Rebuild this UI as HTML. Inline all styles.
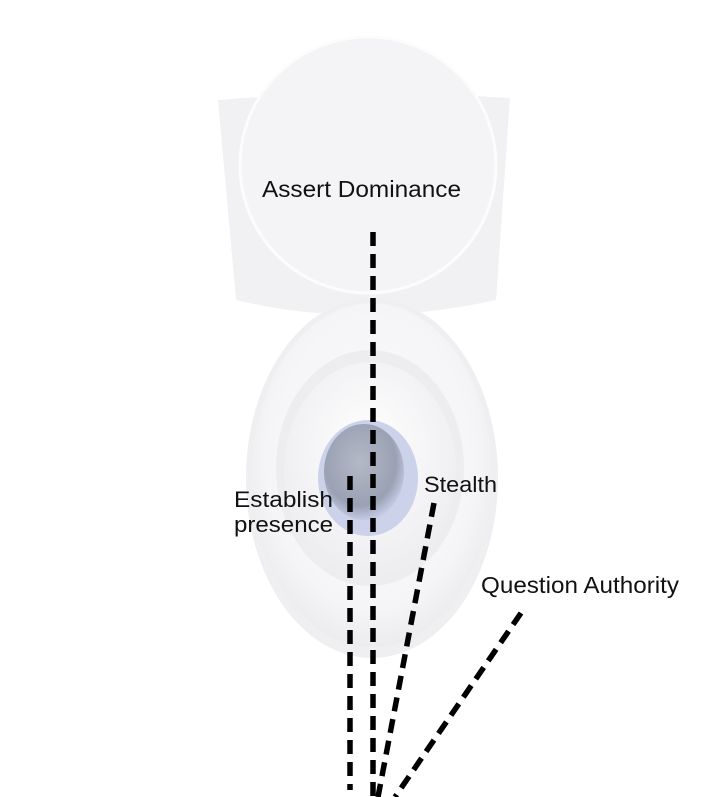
<!DOCTYPE html>
<html><head><style>
html,body{margin:0;padding:0;background:#fff;}
svg{display:block;}
text{font-family:"Liberation Sans",sans-serif;fill:#111;}
</style></head><body>
<svg width="720" height="797" viewBox="0 0 720 797" xmlns="http://www.w3.org/2000/svg">
<defs>
<radialGradient id="bowl" cx="50%" cy="45%" r="55%">
<stop offset="0" stop-color="#fbfbfc"/><stop offset="0.8" stop-color="#f5f5f7"/><stop offset="1" stop-color="#ececef"/>
</radialGradient>
<radialGradient id="inner" cx="50%" cy="40%" r="60%">
<stop offset="0" stop-color="#ffffff"/><stop offset="1" stop-color="#ededf0"/>
</radialGradient>
<radialGradient id="water" cx="45%" cy="40%" r="60%">
<stop offset="0" stop-color="#b4b9c6"/><stop offset="0.75" stop-color="#9aa1b3"/><stop offset="1" stop-color="#c3c9e3"/>
</radialGradient>
</defs>
<rect width="720" height="797" fill="#fff"/>
<path d="M218 100 Q360 88 510 98 L496 300 Q360 330 236 300 Z" fill="#f1f1f3"/>
<ellipse cx="372" cy="478" rx="126" ry="180" fill="#efeff1"/>
<ellipse cx="372" cy="475" rx="120" ry="172" fill="url(#bowl)"/>
<ellipse cx="370" cy="468" rx="94" ry="118" fill="#ededf0"/>
<ellipse cx="370" cy="470" rx="86" ry="108" fill="url(#inner)"/>
<ellipse cx="368" cy="478" rx="50" ry="58" fill="#ccd2ea"/>
<ellipse cx="364" cy="472" rx="40" ry="48" fill="url(#water)"/>
<circle cx="368" cy="165" r="128" fill="#f4f4f6" stroke="#fcfcfc" stroke-width="3"/>
<g stroke="#000" stroke-width="5.5" stroke-dasharray="14 8" fill="none">
<line x1="373" y1="232" x2="373" y2="797"/>
<line x1="350" y1="476" x2="350" y2="790"/>
<line x1="434" y1="503" x2="378" y2="797"/>
<line x1="521" y1="613" x2="395" y2="797"/>
</g>
<text x="262" y="197" font-size="23" textLength="199" lengthAdjust="spacingAndGlyphs">Assert Dominance</text>
<text x="234" y="507" font-size="22" textLength="99" lengthAdjust="spacingAndGlyphs">Establish</text>
<text x="234" y="532" font-size="22" textLength="99" lengthAdjust="spacingAndGlyphs">presence</text>
<text x="424" y="492" font-size="22" textLength="73" lengthAdjust="spacingAndGlyphs">Stealth</text>
<text x="481" y="593" font-size="23" textLength="198" lengthAdjust="spacingAndGlyphs">Question Authority</text>
</svg>
</body></html>
